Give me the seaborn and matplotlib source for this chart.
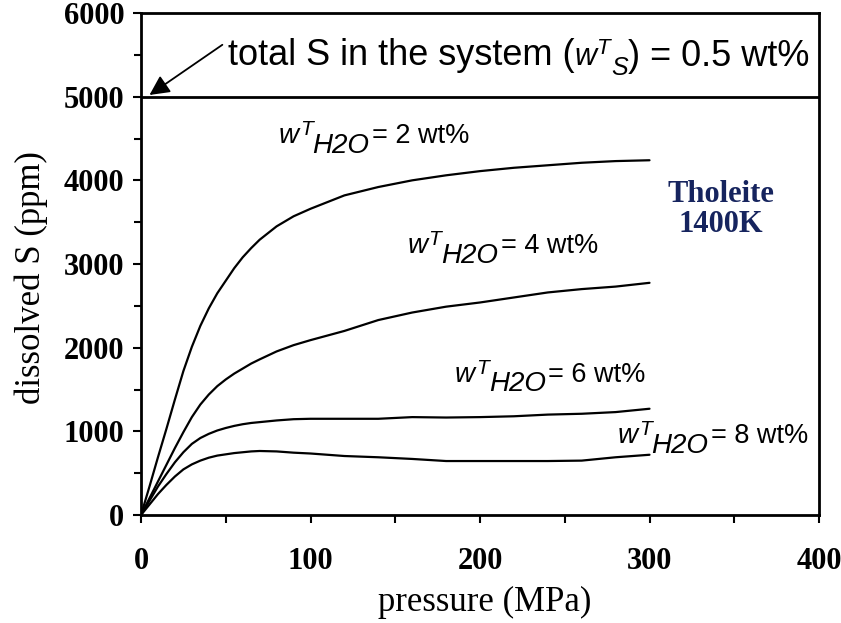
import matplotlib
matplotlib.use("Agg")
import matplotlib.pyplot as plt
import numpy as np
import pandas as pd
import seaborn as sns
from matplotlib.ticker import MultipleLocator

# Pressure grid (MPa) shared by all curves
pressure = [0, 5, 10, 15, 20, 25, 30, 35, 40, 45, 50, 55, 60, 65, 70, 80,
            90, 100, 120, 140, 160, 180, 200, 220, 240, 260, 280, 300]

# Dissolved S (ppm) for each bulk water content
s_h2o_2 = [0, 340, 690, 1030, 1380, 1720, 2010, 2260, 2470, 2650, 2800, 2950,
           3080, 3190, 3290, 3450, 3570, 3660, 3820, 3920, 4000, 4060, 4110,
           4150, 4180, 4210, 4230, 4240]
s_h2o_4 = [0, 200, 400, 600, 800, 990, 1170, 1320, 1440, 1540, 1620, 1690,
           1750, 1810, 1860, 1955, 2030, 2090, 2200, 2330, 2420, 2490, 2540,
           2600, 2660, 2700, 2730, 2775]
s_h2o_6 = [0, 170, 340, 490, 630, 750, 850, 920, 970, 1010, 1040, 1065,
           1085, 1100, 1110, 1130, 1145, 1150, 1150, 1150, 1170, 1165, 1170,
           1180, 1200, 1210, 1230, 1270]
s_h2o_8 = [0, 125, 250, 360, 460, 545, 605, 650, 685, 710, 725, 740,
           750, 760, 765, 760, 745, 735, 705, 690, 670, 645, 645, 645, 645,
           650, 690, 720]

water_contents = ["2", "4", "6", "8"]
total_s_ppm = 5000

x_ticks = [0, 100, 200, 300, 400]
y_ticks = [0, 1000, 2000, 3000, 4000, 5000, 6000]

df = pd.concat([
    pd.DataFrame({"pressure": pressure, "S": vals, "h2o": w})
    for w, vals in zip(water_contents, [s_h2o_2, s_h2o_4, s_h2o_6, s_h2o_8])
])

sns.set_theme(style="ticks")
plt.rcParams["font.family"] = ["Liberation Serif", "DejaVu Serif"]
for key in ("text.color", "axes.labelcolor", "xtick.color", "ytick.color",
            "axes.edgecolor"):
    plt.rcParams[key] = "black"

fig = plt.figure(figsize=(8.41, 6.23), dpi=100)
ax = fig.add_axes([141 / 841, 1 - 515 / 623, 678 / 841, 502 / 623])

sns.lineplot(data=df, x="pressure", y="S", hue="h2o", units="h2o",
             estimator=None, palette=["black"] * 4, linewidth=1.6,
             legend=False, ax=ax)

ax.axhline(total_s_ppm, color="black", linewidth=2)

ax.set_xlim(0, 400)
ax.set_ylim(0, 6000)
ax.set_xticks(x_ticks)
ax.set_yticks(y_ticks)
ax.xaxis.set_minor_locator(MultipleLocator(50))
ax.yaxis.set_minor_locator(MultipleLocator(500))
ax.set_xticklabels([str(v) for v in x_ticks], fontweight="bold", fontsize=22)
ax.set_yticklabels([str(v) for v in y_ticks], fontweight="bold", fontsize=22)
ax.tick_params(axis="both", which="both", direction="out", width=1.5,
               color="black", labelcolor="black", top=False, right=False)
ax.tick_params(axis="x", which="major", length=6, pad=17)
ax.tick_params(axis="x", which="minor", length=6)
ax.tick_params(axis="y", which="major", length=6, pad=6)
ax.tick_params(axis="y", which="minor", length=5)
for sp in ax.spines.values():
    sp.set_visible(True)
    sp.set_linewidth(2)
    sp.set_color("black")

ax.set_xlabel("pressure (MPa)", fontsize=25, color="black")
ax.set_ylabel("dissolved S (ppm)", fontsize=25, color="black")
ax.xaxis.set_label_coords(0.507, -0.142)
ax.yaxis.set_label_coords(-0.137, 0.472)

SANS = ["Liberation Sans", "DejaVu Sans"]
DESC = 0.21  # descent of the bbox below the baseline, in em


def chain_text(x, y, pieces):
    """Draw consecutive text pieces, each with its own size, style and
    baseline shift (points), starting at data point (x, y)."""
    prev, prev_shift, prev_size = None, 0.0, None
    for s, size, italic, shift, gap in pieces:
        kw = dict(fontsize=size, fontstyle="italic" if italic else "normal",
                  family=SANS, va="baseline", ha="left", color="black")
        if prev is None:
            t = ax.annotate(s, xy=(x, y), xycoords="data",
                            xytext=(0, shift), textcoords="offset points", **kw)
        else:
            dy = shift - prev_shift + DESC * prev_size
            t = ax.annotate(s, xy=(1, 0), xycoords=prev,
                            xytext=(gap, dy), textcoords="offset points", **kw)
        prev, prev_shift, prev_size = t, shift, size
    return prev


def water_label(x, y, wt):
    chain_text(x, y, [("w", 20, True, 0, 0),
                      ("T", 15, True, 6, 1),
                      ("H2O", 20, True, -7, 0),
                      ("= " + wt + " wt%", 19.5, False, 0, 2)])


water_label(81, 4446, "2")
water_label(157, 3131, "4")
water_label(185, 1590, "6")
water_label(281, 860, "8")

# Total sulfur annotation in the upper band
chain_text(51.3, 5378, [("total S in the system (", 26, False, 0, 0),
                        ("w", 22, True, 0, 0),
                        ("T", 16, True, 9, 0.5),
                        ("S", 18, True, -6, 0),
                        (") = 0.5 wt%", 26, False, 0, 0.5)])
ax.annotate("", xy=(5.0, 5020), xytext=(48, 5620),
            arrowprops=dict(arrowstyle="-|>", mutation_scale=30, lw=1.3,
                            color="black", shrinkA=0, shrinkB=0))

navy = "#16245e"
ax.text(342, 3741, "Tholeite", ha="center", va="baseline", fontsize=22,
        fontweight="bold", color=navy)
ax.text(342, 3382, "1400K", ha="center", va="baseline", fontsize=22,
        fontweight="bold", color=navy)

fig.savefig("out.png", dpi=100)
